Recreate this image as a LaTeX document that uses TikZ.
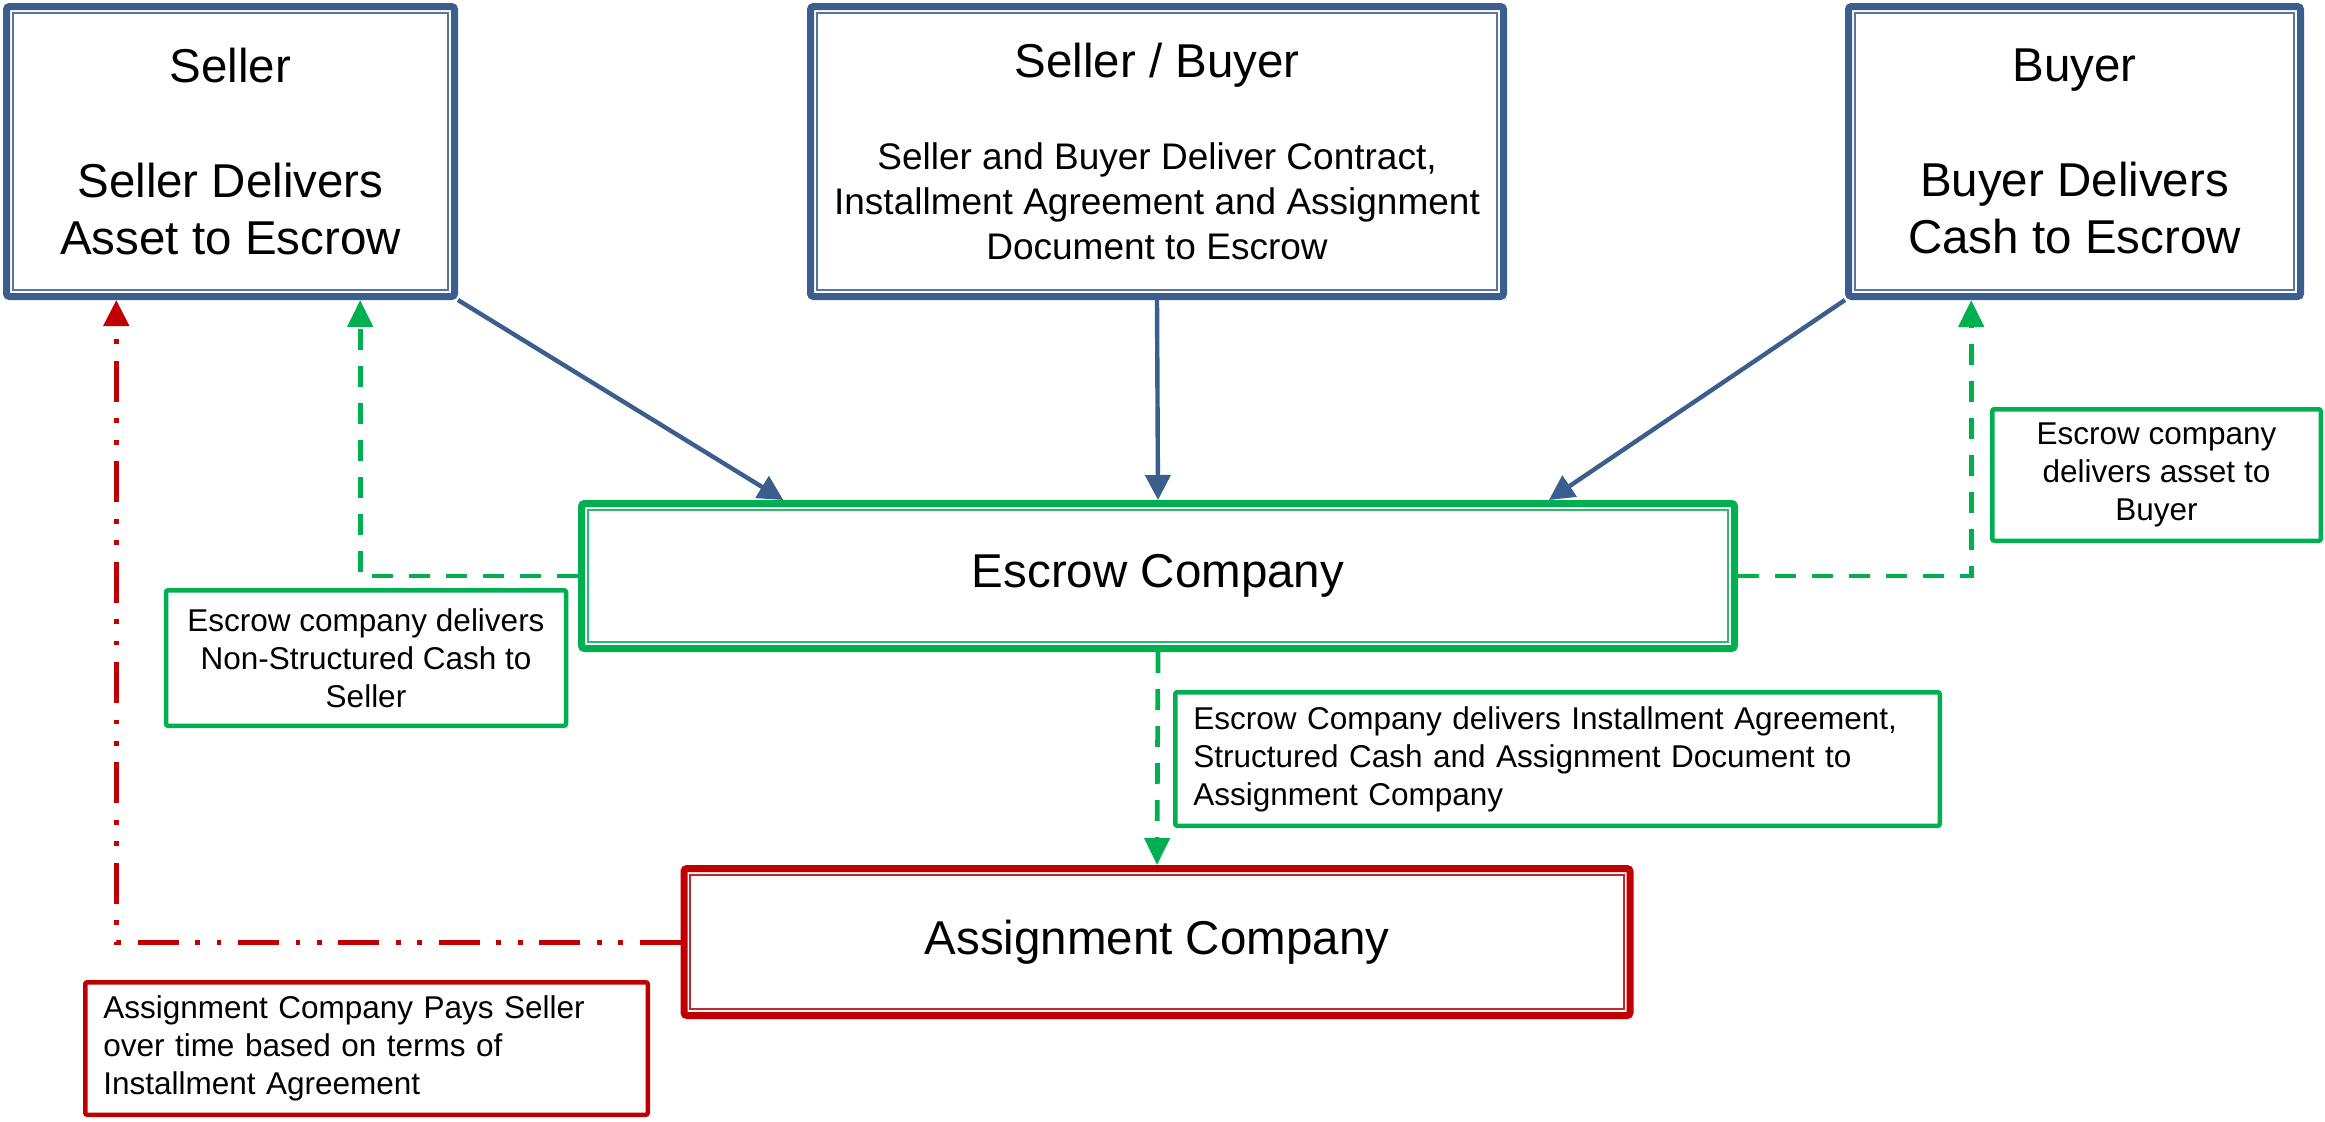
\documentclass[tikz,border=0pt]{standalone}
\usepackage{fontspec}
\setmainfont{Liberation Sans}
\usetikzlibrary{arrows.meta,calc}

\definecolor{partyblue}{HTML}{3B5E8C}
\definecolor{flowgreen}{HTML}{00B050}
\definecolor{payred}{HTML}{C00000}

\newcommand{\bigtxt}{\fontsize{23.75}{28.75}\selectfont}
\newcommand{\midtxt}{\fontsize{18.5}{22.5}\selectfont}
\newcommand{\smalltxt}{\fontsize{15.75}{19}\selectfont}

\tikzset{
  % thick outer frame with a thin inner rule (compound border)
  framebox/.style={draw=#1, line width=3.5pt, rounded corners=1.5pt, fill=white,
    inner sep=0pt, align=center, font=\bigtxt,
    path picture={\draw[#1!85, line width=1pt, sharp corners]
      ([shift={(3.2pt,-3.2pt)}]path picture bounding box.north west) rectangle
      ([shift={(-3.2pt,3.2pt)}]path picture bounding box.south east);}},
  notebox/.style={draw=#1, line width=2.25pt, rounded corners=1pt, fill=white,
    inner sep=0pt, font=\smalltxt},
  bluearrow/.style={draw=partyblue, line width=2.2pt, -{Triangle[width=12.5pt,length=12.5pt]}},
  greendash/.style={draw=flowgreen, line width=2.35pt, dash pattern=on 10.5pt off 8pt,
    -{Triangle[width=12.5pt,length=13.5pt]}},
  reddashdot/.style={draw=payred, line width=2.5pt,
    dash pattern=on 20.5pt off 8.3pt on 2.4pt off 8.3pt on 2.4pt off 8.3pt,
    -{Triangle[width=12.5pt,length=13pt]}},
}

\begin{document}
\begin{tikzpicture}[x=0.5pt, y=-0.5pt]
  \useasboundingbox (0,0) rectangle (2325,1121);

  % parties
  \node[framebox=partyblue, minimum width=224pt, minimum height=145pt] (seller) at (230.5,151.5)
    {Seller\\[28.75pt]Seller Delivers\\Asset to Escrow};
  \node[framebox=partyblue, font=\midtxt, minimum width=346.5pt, minimum height=145pt] (sb) at (1157,151.5)
    {{\bigtxt Seller / Buyer}\\[23.5pt]Seller and Buyer Deliver Contract,\\Installment Agreement and Assignment\\Document to Escrow};
  \node[framebox=partyblue, minimum width=226pt, minimum height=145pt] (buyer) at (2074.5,151.5)
    {Buyer\\[28.75pt]Buyer Delivers\\Cash to Escrow};

  % intermediaries
  \node[framebox=flowgreen, minimum width=576.5pt, minimum height=72.5pt] (escrow) at (1158,576)
    {Escrow Company};
  \node[framebox=payred, minimum width=473pt, minimum height=73.5pt] (assign) at (1157,942)
    {Assignment Company};

  % notes
  \node[notebox=flowgreen, minimum width=200pt, minimum height=67.75pt, align=center] (noteseller) at (366,658)
    {Escrow company delivers\\Non-Structured Cash to\\Seller};
  \node[notebox=flowgreen, minimum width=164.25pt, minimum height=65.75pt, align=center] (notebuyer) at (2156.5,475)
    {Escrow company\\delivers asset to\\Buyer};
  \node[notebox=flowgreen, minimum width=382.25pt, minimum height=66.75pt, text width=364.25pt, align=left] (noteassign) at (1557.5,759)
    {Escrow Company delivers Installment Agreement,\\Structured Cash and Assignment Document to\\Assignment Company};
  \node[notebox=payred, minimum width=281.25pt, minimum height=66.25pt, text width=263.25pt, align=left] (notepay) at (366.5,1048.5)
    {Assignment Company Pays Seller\\over time based on terms of\\Installment Agreement};

  % connector end points on box edges
  \coordinate (escrowinL) at ($(escrow.north west)!0.177!(escrow.north east)$);
  \coordinate (escrowinR) at ($(escrow.north west)!0.837!(escrow.north east)$);
  \coordinate (sellercash) at ($(seller.south west)!0.785!(seller.south east)$);
  \coordinate (sellerpay) at ($(seller.south west)!0.249!(seller.south east)$);
  \coordinate (buyerasset) at ($(buyer.south west)!0.275!(buyer.south east)$);

  % deliveries into escrow
  \draw[bluearrow] (seller.south east) -- (escrowinL);
  \draw[bluearrow] (sb.south) -- (escrow.north);
  \draw[bluearrow] (buyer.south west) -- (escrowinR);

  % deliveries out of escrow
  \draw[greendash] (escrow.west) -| (sellercash);
  \draw[greendash] (escrow.east) -| (buyerasset);
  \draw[greendash] (escrow.south) -- (assign.north);

  % payments over time
  \draw[reddashdot] (assign.west) -| (sellerpay);
\end{tikzpicture}
\end{document}
